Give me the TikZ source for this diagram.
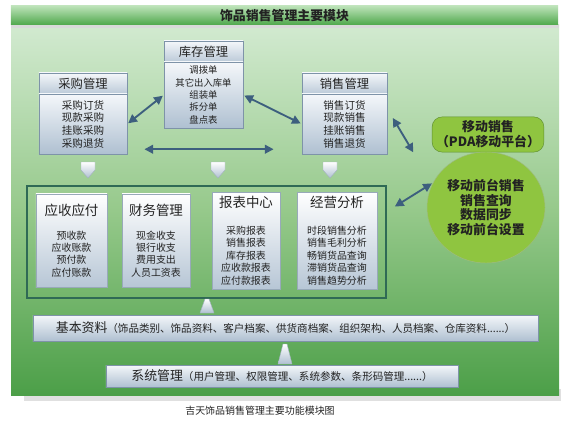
\documentclass[tikz,border=0pt]{standalone}
\usepackage{fontspec}
\setmainfont{Noto Sans CJK SC}
\usetikzlibrary{calc,shapes.geometric,arrows.meta}
\definecolor{panelTop}{HTML}{D2EAD0}
\definecolor{panelMid}{HTML}{96C98B}
\definecolor{panelBot}{HTML}{4C9F48}
\definecolor{barTop}{HTML}{BCE2B8}
\definecolor{barBot}{HTML}{4EA84B}
\definecolor{boxTop}{HTML}{F4F7FA}
\definecolor{boxBot}{HTML}{AFC0D1}
\definecolor{boxLine}{HTML}{7E93A8}
\definecolor{frameLine}{HTML}{2F6A55}
\definecolor{arrowBlue}{HTML}{3D5F7E}
\definecolor{mobFill}{HTML}{8FC540}
\definecolor{mobLine}{HTML}{5E8E2E}
\definecolor{txt}{HTML}{222222}

\begin{document}
\begin{tikzpicture}[x=0.03cm, y=-0.03cm,
  every node/.style={text=txt},
  head/.style={draw=boxLine, top color=boxTop, bottom color=boxBot!85, font=\fontsize{10.5}{12}\selectfont},
  body/.style={draw=boxLine, top color=boxTop, bottom color=boxBot, align=center, font=\fontsize{9}{10.8}\selectfont},
  module/.style={draw=boxLine!80, top color=white, bottom color=boxBot!90, align=center, minimum height=2.79cm, font=\fontsize{8.5}{10.6}\selectfont},
  strip/.style={draw=boxLine, top color=boxTop, bottom color=boxBot, font=\fontsize{9}{11}\selectfont},
  biarrow/.style={{Triangle[length=7.5pt,width=7.5pt]}-{Triangle[length=7.5pt,width=7.5pt]}, line width=1.6pt, draw=arrowBlue, shorten <=1pt, shorten >=1pt},
  chev/.style={draw=boxLine!70, top color=white, bottom color=boxBot, line join=round},
  mobile/.style={draw=mobLine, fill=mobFill, align=center, font=\bfseries\fontsize{11}{12.75}\selectfont}]
\useasboundingbox (0,0) rectangle (573,428);
% background panel
\fill[black!12] (24,389) rectangle (561,401);
\shade[top color=panelTop, bottom color=panelBot, middle color=panelMid] (11,25) rectangle (559,395);
\node[minimum width=16.41cm, minimum height=0.57cm, inner sep=0, top color=barTop, bottom color=barBot, font=\bfseries\fontsize{11}{13}\selectfont] (title) at (284.5,15.5) {饰品销售管理主要模块};
\fill[black!15] (11,25.5) rectangle (559,28.5);

% upper modules
\node[head, minimum width=2.64cm, minimum height=0.63cm] (cgHead) at (83,83.5) {采购管理};
\node[body, minimum width=2.64cm, minimum height=1.8cm] (cgBody) at (83,124) {采购订货\\现款采购\\挂账采购\\采购退货};
\node[head, minimum width=2.37cm, minimum height=0.63cm] (kcHead) at (203.5,51.5) {库存管理};
\node[body, minimum width=2.37cm, minimum height=1.98cm, font=\fontsize{8}{10.6}\selectfont] (kcBody) at (203.5,95) {调拨单\\其它出入库单\\组装单\\拆分单\\盘点表};
\node[head, minimum width=2.55cm, minimum height=0.63cm] (xsHead) at (344.5,83.5) {销售管理};
\node[body, minimum width=2.55cm, minimum height=1.8cm] (xsBody) at (344.5,124) {销售订货\\现款销售\\挂账销售\\销售退货};

\foreach \cx in {88,218,330}
  \draw[chev] (\cx-7,162) -- (\cx+7,162) -- (\cx+7,170) -- (\cx,178) -- (\cx-7,170) -- cycle;

% reports frame
\node[draw=frameLine, line width=1.4pt, minimum width=10.77cm, minimum height=3.36cm] (frame) at (206.5,242) {};
\node[module, minimum width=2.13cm] (ys) at (71.5,240.5) {{\fontsize{11.5}{13}\selectfont 应收应付}\\[9.8pt]预收款\\应收账款\\预付款\\应付账款};
\node[module, minimum width=2.04cm] (cw) at (156,240.5) {{\fontsize{11.5}{13}\selectfont 财务管理}\\[9.8pt]现金收支\\银行收支\\费用支出\\人员工资表};
\node[module, minimum width=2.04cm] (bb) at (246,240.5) {{\fontsize{11.5}{13}\selectfont 报表中心}\\[12.4pt]采购报表\\销售报表\\库存报表\\应收款报表\\应付款报表};
\node[module, minimum width=2.4cm] (jy) at (337,240.5) {{\fontsize{11.5}{13}\selectfont 经营分析}\\[12.4pt]时段销售分析\\销售毛利分析\\畅销货品查询\\滞销货品查询\\销售趋势分析};

% base strips
\foreach \ux/\uy/\uh in {207/313/14, 285/364/20}
  \draw[chev] (\ux-7,\uy) -- (\ux-2,\uy-\uh) -- (\ux+2,\uy-\uh) -- (\ux+7,\uy) -- cycle;
\node[strip, minimum width=15.15cm, minimum height=0.78cm] (basic) at (285.5,328) {{\fontsize{11}{13}\selectfont 基本资料}（饰品类别、饰品资料、客户档案、供货商档案、组织架构、人员档案、仓库资料......）};
\node[strip, minimum width=10.56cm, minimum height=0.66cm] (sys) at (282,376) {{\fontsize{11}{13}\selectfont 系统管理}（用户管理、权限管理、系统参数、条形码管理......）};

% mobile
\node[mobile, minimum width=3.3cm, minimum height=1.05cm, rounded corners=0.3cm] (mob) at (488,134.5) {移动销售\\（PDA移动平台）};
\node[mobile, ellipse, draw=mobLine!60, minimum width=3.54cm, minimum height=3.33cm, inner sep=0, font=\bfseries\fontsize{11}{12.5}\selectfont] (mobCirc) at (486,207.5) {移动前台销售\\销售查询\\数据同步\\移动前台设置};

\draw[biarrow] (cgBody.east) -- (kcBody.west);
\draw[biarrow] (kcBody.east) -- (xsBody.west);
\draw[biarrow] ($(cgBody.south east)+(16,-5)$) -- ($(xsBody.south west)+(-27,-5)$);
\draw[biarrow] ($(xsBody.east)+(5,-7)$) -- ($(mob.south west)+(-18,1)$);
\draw[biarrow] ($(frame.north east)+(7,22)$) -- (mobCirc.155);

\node[font=\fontsize{8.5}{10}\selectfont] (caption) at (260,411) {吉天饰品销售管理主要功能模块图};
\end{tikzpicture}
\end{document}
